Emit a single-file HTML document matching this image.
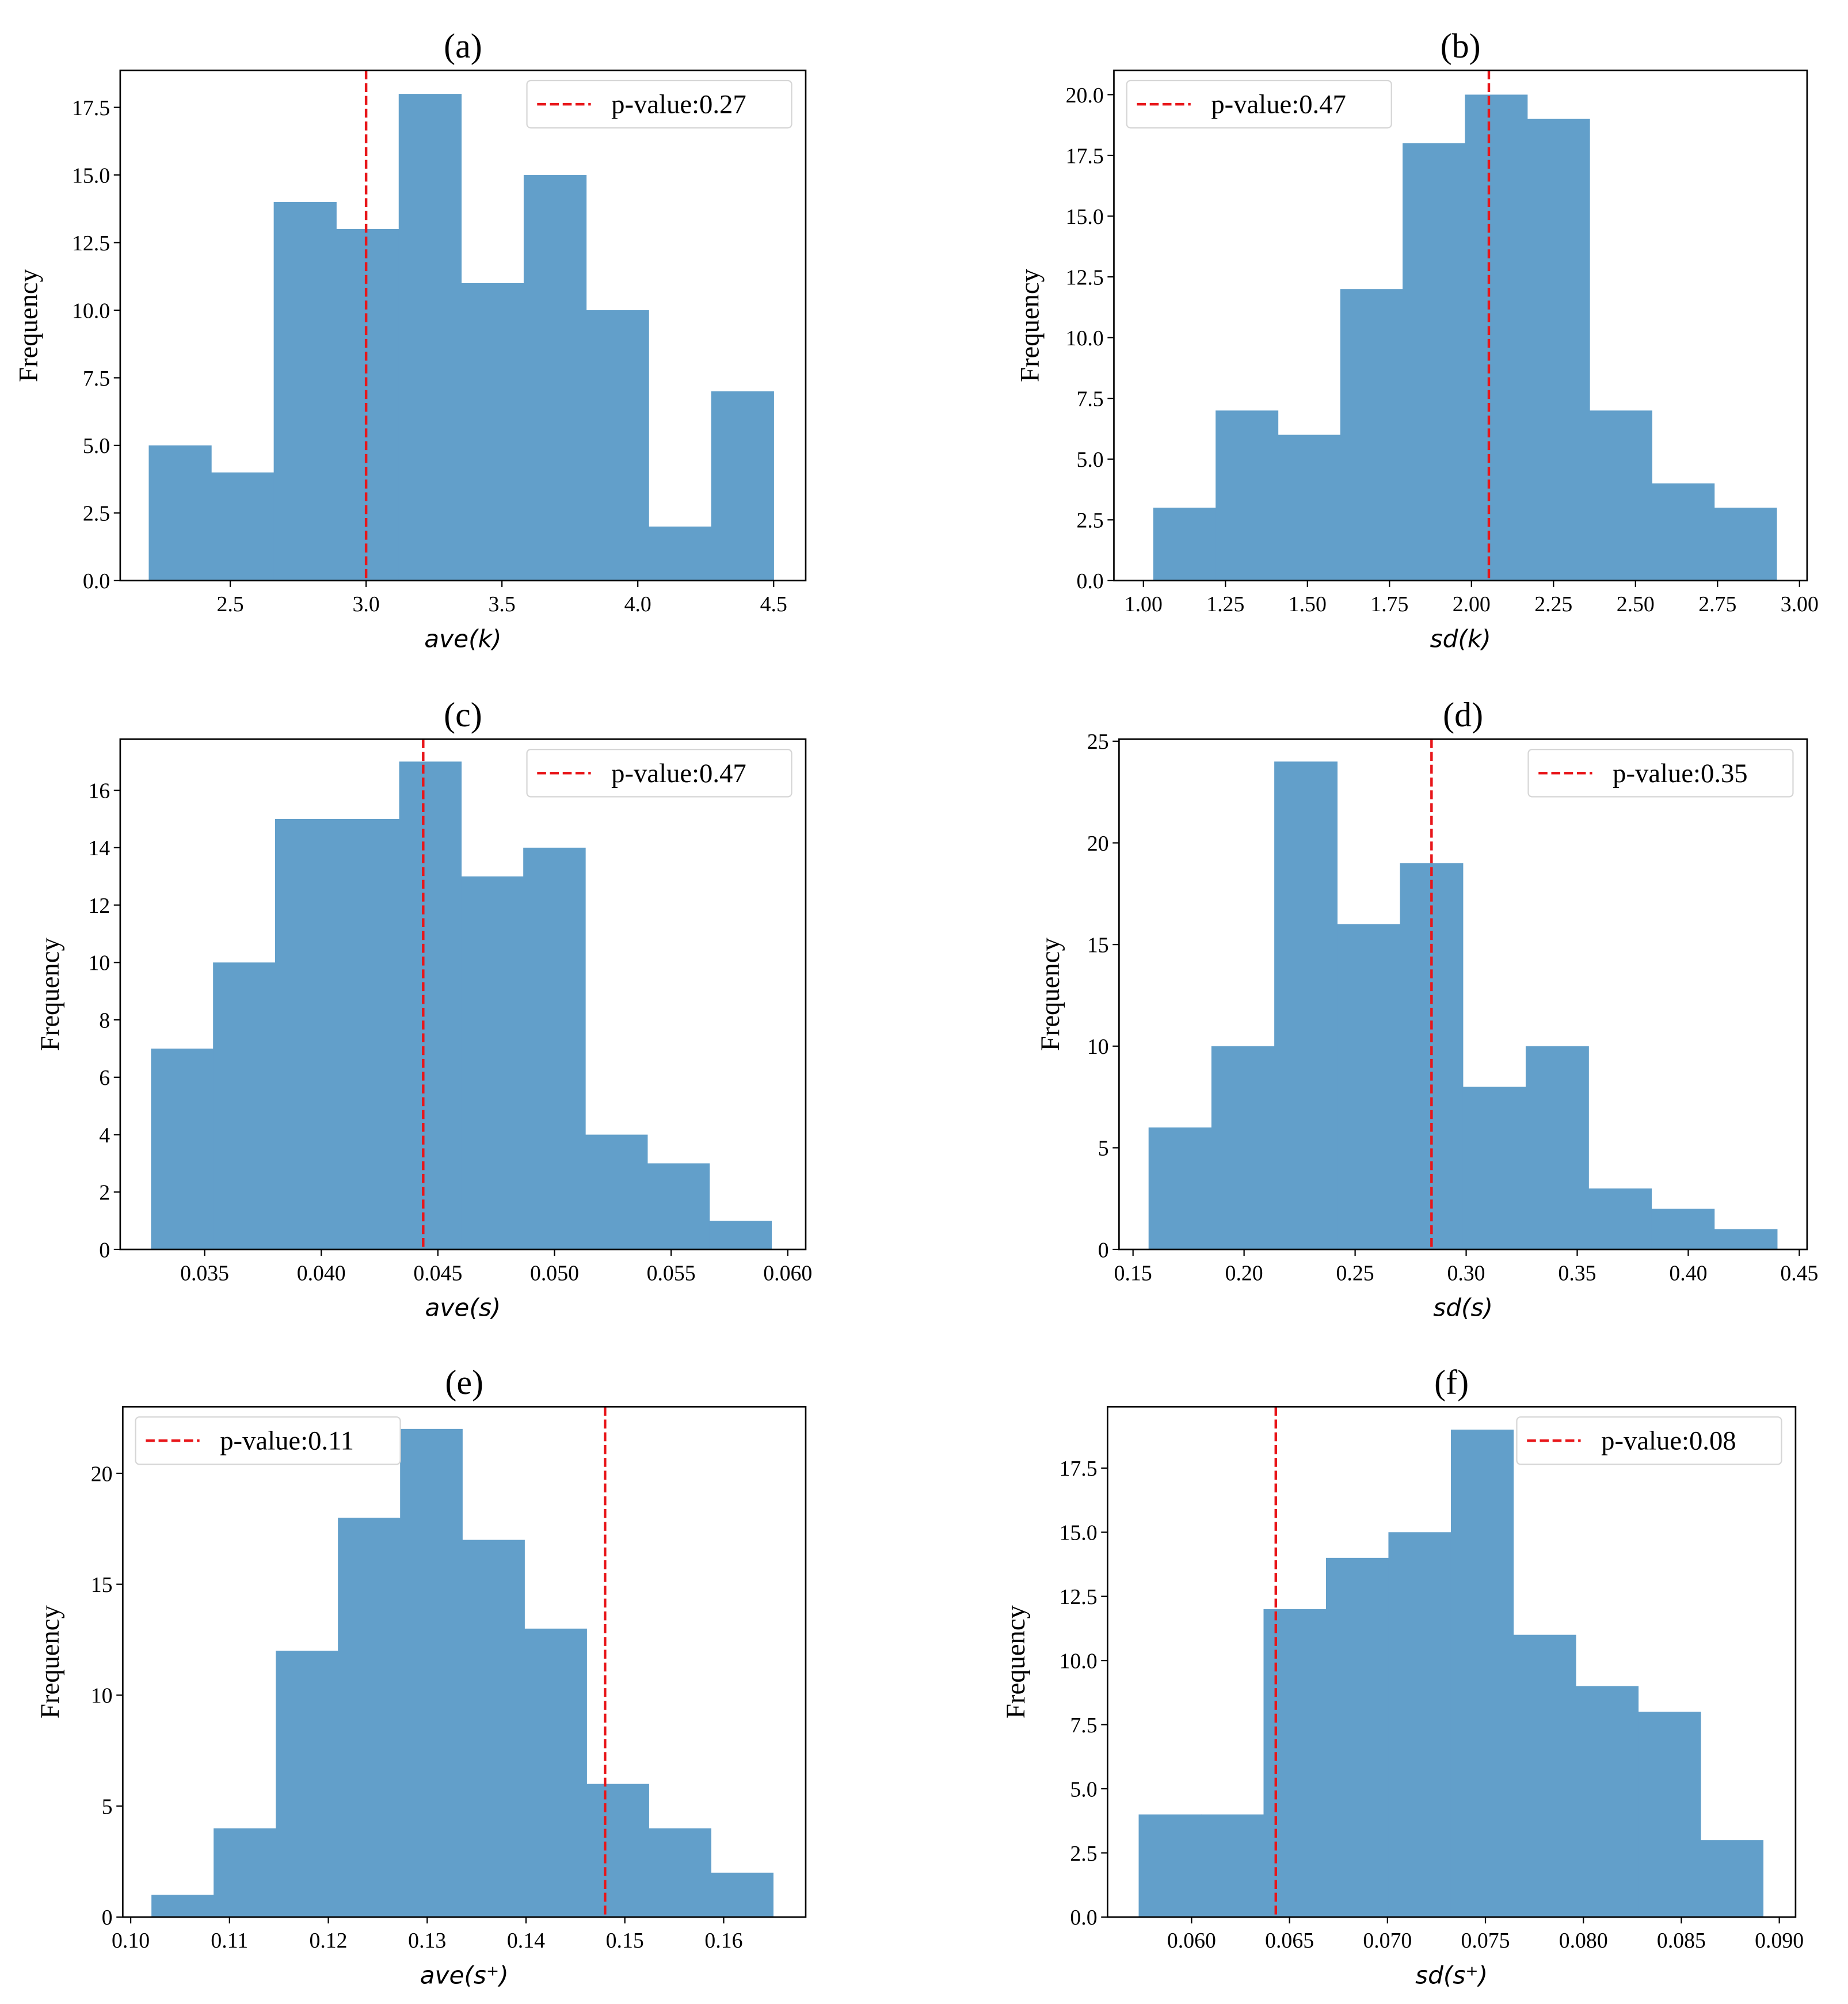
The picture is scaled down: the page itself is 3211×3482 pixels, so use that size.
<!DOCTYPE html>
<html><head><meta charset="utf-8"><style>
html,body{margin:0;padding:0;background:#fff}
svg{display:block}
.tk{font-family:"Liberation Serif","DejaVu Serif",serif;font-size:17px;fill:#000}
.ttl{font-family:"Liberation Serif","DejaVu Serif",serif;font-size:27px;fill:#000}
.xl{font-family:"DejaVu Sans","Liberation Sans",sans-serif;font-style:italic;font-size:19px;fill:#000}
.yl{font-family:"Liberation Serif","DejaVu Serif",serif;font-size:21px;fill:#000}
.lg{font-family:"Liberation Serif","DejaVu Serif",serif;font-size:21px;fill:#000}
</style></head><body>
<svg id="fig" width="3211" height="3482" viewBox="0 0 1445 1567" preserveAspectRatio="none" xmlns="http://www.w3.org/2000/svg"></svg>
<script>
// Panel data
const titles = ["(a)","(b)","(c)","(d)","(e)","(f)"];
const xLabels = ["ave(k)","sd(k)","ave(s)","sd(s)","ave(s\u207A)","sd(s\u207A)"];
const countsA = [5,4,14,13,18,11,15,10,2,7];
const countsB = [3,7,6,12,18,20,19,7,4,3];
const countsC = [7,10,15,15,17,13,14,4,3,1];
const countsD = [6,10,24,16,19,8,10,3,2,1];
const countsE = [1,4,12,18,22,17,13,6,4,2];
const countsF = [4,4,12,14,15,19,11,9,8,3];
const binRangeA = [2.2,4.5];
const binRangeB = [1.03,2.93];
const binRangeC = [0.0327,0.0593];
const binRangeD = [0.157,0.440];
const binRangeE = [0.1021,0.1650];
const binRangeF = [0.0573,0.08917];
const observed = [3.0,2.053,0.04437,0.2844,0.148,0.0643];
const pValues = ["0.27","0.47","0.47","0.35","0.11","0.08"];
const xTicksA = [2.5,3.0,3.5,4.0,4.5];
const xTicksB = [1.00,1.25,1.50,1.75,2.00,2.25,2.50,2.75,3.00];
const xTicksC = [0.035,0.040,0.045,0.050,0.055,0.060];
const xTicksD = [0.15,0.20,0.25,0.30,0.35,0.40,0.45];
const xTicksE = [0.10,0.11,0.12,0.13,0.14,0.15,0.16];
const xTicksF = [0.060,0.065,0.070,0.075,0.080,0.085,0.090];
const yTicksA = [0,2.5,5,7.5,10,12.5,15,17.5];
const yTicksB = [0,2.5,5,7.5,10,12.5,15,17.5,20];
const yTicksC = [0,2,4,6,8,10,12,14,16];
const yTicksD = [0,5,10,15,20,25];
const yTicksE = [0,5,10,15,20];
const yTicksF = [0,2.5,5,7.5,10,12.5,15,17.5];
const xDigits = [1,2,3,2,2,3];
const yDigits = [1,1,0,0,0,1];
const xLims = [[2.095,4.618],[0.91,3.023],[0.03138,0.06077],[0.1437,0.4535],[0.0992,0.1683],[0.05571,0.09083]];
const yLims = [[0,18.87],[0,21.0],[0,17.78],[0,25.1],[0,23.0],[0,19.89]];

const counts=[countsA,countsB,countsC,countsD,countsE,countsF];
const ranges=[binRangeA,binRangeB,binRangeC,binRangeD,binRangeE,binRangeF];
const xTicks=[xTicksA,xTicksB,xTicksC,xTicksD,xTicksE,xTicksF];
const yTicks=[yTicksA,yTicksB,yTicksC,yTicksD,yTicksE,yTicksF];
const boxes=[[94,55,630,454],[871,55,1413,454],[94,578,630,977],[875,578,1413,977],[96,1100,630,1499],[866,1100,1404,1499]];
const legSide=["r","l","r","r","l","r"];
const ylabX=[29,812,46,828,46,801];

const NS="http://www.w3.org/2000/svg";
const svg=document.getElementById('fig');
function mk(tag,attrs,parent){const e=document.createElementNS(NS,tag);for(const k in attrs)e.setAttribute(k,attrs[k]);(parent||svg).appendChild(e);return e;}
const ids=["a","b","c","d","e","f"];
for(let p=0;p<6;p++){
  const [L,T,R,B]=boxes[p];
  const g=mk('g',{});
  
  
  const xs=v=>L+(v-xLims[p][0])/(xLims[p][1]-xLims[p][0])*(R-L);
  const ys=v=>B-(v-yLims[p][0])/(yLims[p][1]-yLims[p][0])*(B-T);
  const c=counts[p],n=c.length,[r0,r1]=ranges[p],w=(r1-r0)/n;
  for(let i=0;i<n;i++){
    const x0=xs(r0+i*w),x1=xs(r0+(i+1)*w),y=ys(c[i]);
    const b=mk('rect',{x:x0,y:y,width:x1-x0+0.3,height:B-y,fill:'#629fca'},g);
    
    
  }
  const lx=xs(observed[p]);
  const ol=mk('line',{x1:lx,y1:T,x2:lx,y2:B,stroke:'#e8161a','stroke-width':2,'stroke-dasharray':'7,3'},g);
  
  
  const fr=mk('rect',{x:L,y:T,width:R-L,height:B-T,fill:'none',stroke:'#000','stroke-width':1.2},g);
  
  
  xTicks[p].forEach(v=>{const x=xs(v);mk('line',{x1:x,y1:B,x2:x,y2:B+5,stroke:'#000','stroke-width':1},g);
    const t=mk('text',{x:x,y:B+24,'text-anchor':'middle',class:'tk'},g);t.textContent=v.toFixed(xDigits[p]);
    
    });
  yTicks[p].forEach(v=>{const y=ys(v);mk('line',{x1:L-5,y1:y,x2:L,y2:y,stroke:'#000','stroke-width':1},g);
    const t=mk('text',{x:L-8,y:y+6,'text-anchor':'end',class:'tk'},g);t.textContent=v.toFixed(yDigits[p]);
    
    });
  const tt=mk('text',{x:(L+R)/2,y:T-10,'text-anchor':'middle',class:'ttl'},g);tt.textContent=titles[p];
  
  
  const xl=mk('text',{x:(L+R)/2,y:B+52,'text-anchor':'middle',class:'xl'},g);xl.textContent=xLabels[p];
  
  
  const cy=(T+B)/2;
  const yl=mk('text',{x:ylabX[p],y:cy,'text-anchor':'middle',class:'yl',transform:'rotate(-90 '+ylabX[p]+' '+cy+')'},g);yl.textContent='Frequency';
  
  
  const lw=207,lh=37,lxp=legSide[p]==='r'?R-11-lw:L+10,lyp=T+8;
  const lg=mk('g',{},g);
  
  
  mk('rect',{x:lxp,y:lyp,width:lw,height:lh,rx:3,fill:'#fff','fill-opacity':0.8,stroke:'#d6d6d6','stroke-width':1},lg);
  mk('line',{x1:lxp+8,y1:lyp+lh/2,x2:lxp+50,y2:lyp+lh/2,stroke:'#e8161a','stroke-width':2,'stroke-dasharray':'7,3'},lg);
  const lt=mk('text',{x:lxp+66,y:lyp+lh/2+7,class:'lg'},lg);lt.textContent='p-value:'+pValues[p];
  
  
}
</script>
</body></html>
